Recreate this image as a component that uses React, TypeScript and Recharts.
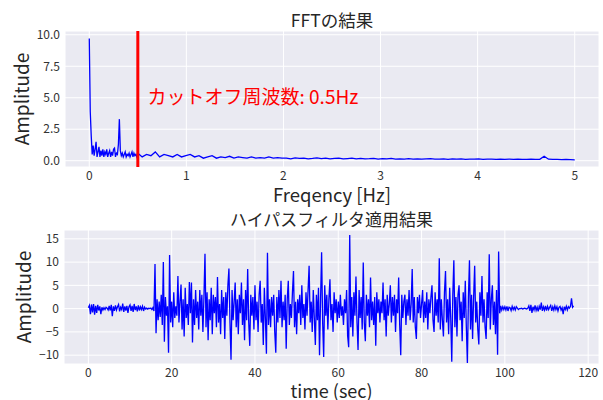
import React from 'react';
import {
  LineChart,
  Line,
  XAxis,
  YAxis,
  CartesianGrid,
  ReferenceLine,
  ReferenceDot,
} from 'recharts';

// ---------- FFT (top) ----------
// low band: 0.00 .. 0.49 Hz, step 0.01 Hz
const fftLowStep = 0.01;
const fftLowAmp = [
  9.7, 3.9, 2.0, 0.5, 1.2, 0.4, 0.9, 1.5, 0.3, 0.7,
  1.1, 0.3, 0.8, 0.4, 0.9, 0.3, 0.7, 0.5, 0.9, 0.3,
  0.6, 0.8, 0.3, 0.7, 0.4, 0.9, 1.0, 0.3, 0.6, 0.5,
  1.3, 3.3, 0.8, 0.4, 0.6, 0.3, 0.5, 0.7, 0.3, 0.5,
  0.4, 0.6, 0.3, 0.5, 0.7, 0.3, 0.6, 0.4, 0.5, 0.3,
];
// high band: 0.5 .. 5.0 Hz, step 0.045 Hz
const fftHighStart = 0.5;
const fftHighStep = 0.045;
const fftHighAmp = [
  0.6, 0.3, 0.5, 0.4, 0.7, 0.3, 0.5, 0.4, 0.3, 0.5, 0.3, 0.4,
  0.5, 0.3, 0.4, 0.2, 0.3, 0.4, 0.2, 0.3, 0.25, 0.35, 0.2, 0.3, 0.25, 0.2, 0.3, 0.2, 0.25, 0.2, 0.3, 0.2, 0.25, 0.2,
  0.2, 0.15, 0.22, 0.18, 0.2, 0.15, 0.18, 0.22, 0.16, 0.2,
  0.15, 0.18, 0.2, 0.14, 0.17, 0.2, 0.15, 0.18, 0.14, 0.16,
  0.19, 0.13, 0.16, 0.14, 0.18, 0.13, 0.15, 0.12, 0.16, 0.13,
  0.15, 0.12, 0.14, 0.16, 0.12, 0.13, 0.15, 0.11, 0.14, 0.12,
  0.15, 0.11, 0.13, 0.12, 0.14, 0.11, 0.12, 0.13, 0.1, 0.12,
  0.11, 0.13, 0.1, 0.12, 0.11, 0.1, 0.12, 0.1, 0.11, 0.35,
  0.12, 0.1, 0.11, 0.09, 0.1, 0.08, 0.06,
];
const cutoffHz = 0.5;
const fftXTicks = [0, 1, 2, 3, 4, 5];
const fftYTicks = [0, 2.5, 5, 7.5, 10];

// ---------- High-pass filtered signal (bottom) ----------
const sampleDt = 0.25; // seconds per sample
const filtered = [
  // 0 - 4.75
  0.2, 0.7, -1.2, 0.9, -0.8, 1.0, -1.3, 0.6, -0.9, 0.8, -0.4, 0.5, -1.2, 0.3, -0.3, 0.2, -0.2, 0.3, 0.1, -0.3,
  // 5 - 9.75
  0.6, -0.4, 0.8, -1.6, 0.5, -0.5, 0.7, -0.3, 0.4, 0.9, -0.6, 0.3, -0.2, 1.1, -0.7, 0.5, -0.4, 0.6, -0.9, 0.4,
  // 10 - 14.75
  0.8, -0.5, 0.6, -0.7, 1.0, -0.3, 0.5, -0.6, 0.7, -0.4, 0.4, -0.2, 0.5, -0.5, 0.3, -0.1, 0.1, -0.1, 0.1, 0.0,
  // 15 - 19.75
  0.1, -0.2, 0.2, -0.5, 9.6, -5.3, 2.0, -2.5, 1.5, -1.8, 3.0, -3.5, 10.0, -7.1, 2.5, -1.5, 0.5, -9.5, 11.5, -3.0,
  // 20 - 24.75
  1.5, -4.0, 3.5, -2.0, 0.5, -1.5, 7.0, -3.0, 1.5, 5.2, -4.5, 2.0, -6.0, 4.5, -2.0, 1.0, -3.5, 5.7, -1.0, 5.6,
  // 25 - 29.75
  -7.3, 2.0, -3.5, 4.0, -2.0, 1.5, -4.5, 4.0, -1.5, 3.0, -5.0, 2.5, 11.8, -4.0, 3.5, -6.8, 2.0, -2.5, 4.5, -5.5,
  // 30 - 34.75
  3.0, -1.0, 2.5, -4.0, 6.8, -3.0, 1.0, -5.5, 4.0, -2.0, 2.5, -6.5, 3.5, -1.5, 5.0, 8.6, -3.0, -11.0, 4.0, -2.5,
  // 35 - 39.75
  1.5, 5.6, -4.0, 2.0, -5.5, 3.0, -1.0, 5.6, -3.5, 2.0, -6.8, 4.0, -2.5, 8.5, -3.0, -8.0, 3.0, -1.5, 2.5, -4.5,
  // 40 - 44.75
  5.0, -2.5, 1.5, -5.0, 3.0, 6.0, -3.0, 1.0, -7.8, 4.5, -2.0, -9.7, 12.0, -3.5, 2.0, -4.0, 2.5, -1.5, 3.0, -5.0,
  // 45 - 49.75
  -9.5, 2.5, -3.0, 4.0, -2.0, 6.0, -4.0, 1.5, -2.5, 3.0, -8.6, 2.0, 6.0, -3.5, 1.0, -2.0, 3.5, 8.1, -4.0, 1.5,
  // 50 - 54.75
  -5.5, 2.0, -1.0, 3.0, -3.5, 5.0, -2.0, 1.0, -4.5, 3.5, -1.5, 4.0, 9.2, -3.0, 1.5, -5.0, 4.0, -2.0, -7.8, 3.0,
  // 55 - 59.75
  -2.5, 4.5, -10.0, 2.0, 12.1, -3.0, -10.4, 5.0, -1.5, 3.0, -4.5, 2.0, 6.3, -2.5, 1.0, -5.0, 3.5, -1.0, 2.0, -3.0,
  // 60 - 64.75
  1.5, -2.0, 3.0, -1.5, 0.5, -3.5, 2.0, -1.0, 4.0, -5.9, -8.3, 15.8, -4.0, 2.5, -6.0, 3.5, -1.5, 6.9, -3.0, -8.9,
  // 65 - 69.75
  4.0, -2.0, 2.5, -4.5, 9.9, -3.0, -7.0, 3.0, -1.5, 2.0, -4.0, 6.7, -2.5, 1.5, -3.5, 2.5, -8.0, 3.5, -1.0, 2.0,
  // 70 - 74.75
  -3.0, 1.5, -1.0, 5.6, -2.5, 2.0, -6.0, 3.0, -1.5, 1.0, 5.0, -3.0, 2.5, -1.5, 3.0, -5.0, 2.0, -1.0, 6.7, -3.5,
  // 75 - 79.75
  -10.0, 3.0, -2.0, 1.5, 3.0, -3.5, 2.0, -1.5, 4.0, -2.5, 1.0, 8.5, -3.0, 2.5, -4.0, -6.5, 2.5, -1.0, 3.0, -2.0,
  // 80 - 84.75
  1.0, 4.0, -3.0, 1.5, -2.0, 3.5, -4.5, 2.0, -1.0, 2.5, 5.0, -2.5, -5.0, 3.5, -1.5, 2.0, -3.0, 10.8, -4.5, 2.0,
  // 85 - 89.75
  -2.5, -6.0, 3.5, 8.1, -3.0, 2.0, -5.5, 4.5, -2.0, -11.4, 3.0, 10.4, -4.0, 2.5, -6.0, 3.0, 5.0, -2.5, 1.5, -7.0,
  // 90 - 94.75
  3.5, -2.0, 6.0, -4.0, -11.7, 2.5, 10.4, -4.5, 3.0, -6.5, 2.5, 9.2, -3.0, 1.5, -4.5, -7.7, 3.5, -1.5, 7.0, -3.0,
  // 95 - 99.75
  2.0, -4.0, -6.5, 3.5, -2.0, 11.7, -4.5, 2.0, 5.0, -3.5, 1.5, -5.5, 4.0, -9.9, 12.3, -1.0, 0.6, -0.3, 0.4, -0.2,
  // 100 - 104.75
  0.4, -0.3, 0.5, -0.5, 0.3, 0.2, -0.4, 0.5, -0.2, 0.3, -0.3, 0.4, 0.1, -0.2, 0.0, 0.0, 0.1, -0.1, 0.0, 0.1,
  // 105 - 109.75
  0.0, -0.1, 0.1, 0.6, -0.5, 0.8, -0.9, 0.4, -0.3, 0.7, -0.4, 0.3, -0.6, 0.5, -0.2, 1.3, -0.5, 0.4, -0.3, 0.6,
  // 110 - 114.75
  -0.4, 0.5, -0.2, 0.3, 0.7, -0.5, 0.4, -0.3, 0.6, -0.2, 0.4, -0.5, 0.3, 0.5, -0.3, 0.2, -1.2, 0.4, -0.2, 0.5,
  // 115 - 116.5
  -0.3, 0.4, 0.1, 0.5, 2.2, 0.3, 0.6,
];
const timeXTicks = [0, 20, 40, 60, 80, 100, 120];
const timeYTicks = [-10, -5, 0, 5, 10, 15];

// ---------- tables for the library ----------
const fftData = [
  ...fftLowAmp.map((a, i) => ({ f: +(i * fftLowStep).toFixed(3), a })),
  ...fftHighAmp.map((a, i) => ({ f: +(fftHighStart + i * fftHighStep).toFixed(3), a })),
];
const timeData = filtered.map((v, i) => ({ t: i * sampleDt, v }));

const FONT = '"Noto Sans CJK JP", "Noto Sans", sans-serif';
const TEXT = '#262626';
const BG = '#EAEAF2';

const minus = (s: string) => s.replace('-', '\u2212');

const tickStyle = { fontSize: 12, fill: '#333333', fontFamily: FONT };

function TextAt(props: {
  x: number;
  y: number;
  size: number;
  rotate?: boolean;
  children: React.ReactNode;
}) {
  return (
    <div
      style={{
        position: 'absolute',
        left: props.x,
        top: props.y,
        transform: `translate(-50%, -50%)${props.rotate ? ' rotate(-90deg)' : ''}`,
        fontFamily: FONT,
        fontSize: props.size,
        color: TEXT,
        whiteSpace: 'nowrap',
        lineHeight: 1,
      }}
    >
      {props.children}
    </div>
  );
}

export default function App() {
  return (
    <div
      style={{
        position: 'absolute',
        left: 0,
        top: 0,
        width: 603,
        height: 400,
        background: '#ffffff',
        overflow: 'hidden',
      }}
    >
      <div style={{ position: 'absolute', left: 0, top: 0 }}>
        <LineChart width={603} height={200} data={fftData} margin={{ top: 31, right: 4, bottom: 0, left: 0 }}>
          <CartesianGrid fill={BG} stroke="#ffffff" strokeWidth={1} strokeDasharray="" />
          <XAxis
            type="number"
            dataKey="f"
            domain={[-0.25, 5.25]}
            ticks={fftXTicks}
            allowDataOverflow
            axisLine={false}
            tickLine={false}
            tickSize={0}
            tickMargin={4}
            height={33}
            tick={tickStyle}
          />
          <YAxis
            type="number"
            domain={[-0.5, 10.3]}
            ticks={fftYTicks}
            allowDataOverflow
            tickFormatter={(v: number) => v.toFixed(1)}
            axisLine={false}
            tickLine={false}
            tickSize={0}
            tickMargin={5}
            width={65}
            tick={tickStyle}
          />
          <Line
            type="linear"
            dataKey="a"
            stroke="#0000ff"
            strokeWidth={1.3}
            dot={false}
            isAnimationActive={false}
          />
          <ReferenceLine x={cutoffHz} stroke="#ff0000" strokeWidth={3} />
          <ReferenceDot
            x={0.6}
            y={5}
            r={0}
            fill="none"
            stroke="none"
            label={{
              value: `カットオフ周波数: ${cutoffHz}Hz`,
              position: 'right',
              offset: 0,
              fill: '#ff0000',
              fontSize: 19,
              fontFamily: FONT,
            }}
          />
        </LineChart>
      </div>
      <div style={{ position: 'absolute', left: 0, top: 200 }}>
        <LineChart width={603} height={200} data={timeData} margin={{ top: 30, right: 4, bottom: 0, left: 0 }}>
          <CartesianGrid fill={BG} stroke="#ffffff" strokeWidth={1} strokeDasharray="" />
          <XAxis
            type="number"
            dataKey="t"
            domain={[-5.85, 122.6]}
            ticks={timeXTicks}
            allowDataOverflow
            axisLine={false}
            tickLine={false}
            tickSize={0}
            tickMargin={4}
            height={36}
            tick={tickStyle}
          />
          <YAxis
            type="number"
            domain={[-11.9, 16.9]}
            ticks={timeYTicks}
            allowDataOverflow
            tickFormatter={(v: number) => minus(String(v))}
            axisLine={false}
            tickLine={false}
            tickSize={0}
            tickMargin={5}
            width={64}
            tick={tickStyle}
          />
          <Line
            type="linear"
            dataKey="v"
            stroke="#0000ff"
            strokeWidth={1.3}
            dot={false}
            isAnimationActive={false}
          />
        </LineChart>
      </div>
      <TextAt x={332} y={20} size={17.5}>FFTの結果</TextAt>
      <TextAt x={332} y={193.5} size={18.5}>Freqency [Hz]</TextAt>
      <TextAt x={20} y={99} size={19} rotate>Amplitude</TextAt>
      <TextAt x={331.5} y={218} size={17}>ハイパスフィルタ適用結果</TextAt>
      <TextAt x={331.5} y={389.5} size={18}>time (sec)</TextAt>
      <TextAt x={22} y={297} size={19} rotate>Amplitude</TextAt>
    </div>
  );
}
